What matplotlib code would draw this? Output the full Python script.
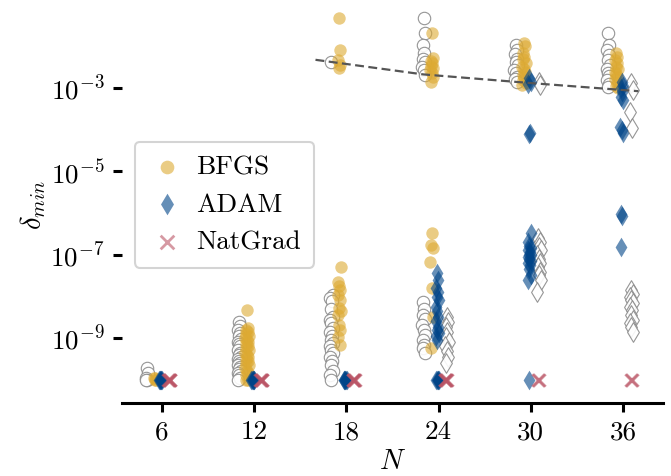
import numpy as np
import matplotlib
matplotlib.use("Agg")
import matplotlib.pyplot as plt
from matplotlib.ticker import FixedLocator, NullLocator

plt.rcParams["font.family"] = "serif"
plt.rcParams["font.serif"] = ["cmr10"]
plt.rcParams["mathtext.fontset"] = "cm"
plt.rcParams["axes.formatter.use_mathtext"] = True

# N values (categorical x axis)
N_values = [6, 12, 18, 24, 30, 36]

# log10(delta_min), one list per N
bfgs_log = [
    [-10.0, -10.0, -9.97, -9.95],
    [-8.33, -8.75, -8.8, -8.85, -8.9, -8.95, -9.0, -9.05, -9.1, -9.15, -9.2, -9.25, -9.3,
     -9.35, -9.4, -9.45, -9.5, -9.55, -9.6, -9.65, -9.72, -9.8, -9.85, -9.9, -10.0, -10.0],
    [-1.33, -2.09, -2.33, -2.45, -2.53, -7.3, -7.66, -7.75, -7.86, -7.98, -8.1, -8.27, -8.35,
     -8.45, -8.7, -8.8, -8.98, -9.17],
    [-1.69, -2.28, -2.35, -2.4, -2.47, -2.53, -2.58, -2.64, -2.75, -2.86, -6.48, -6.77, -6.85,
     -7.18, -7.8, -8.5, -9.24],
    [-1.93, -2.0, -2.16, -2.25, -2.3, -2.4, -2.5, -2.55, -2.62, -2.7, -2.75, -2.81, -2.88, -2.93],
    [-2.16, -2.25, -2.33, -2.4, -2.5, -2.55, -2.62, -2.68, -2.74, -2.8, -2.88, -2.95, -3.0],
]
adam_log = [
    [-10.0, -10.0, -10.0, -10.0, -10.0, -10.0],
    [-10.0, -10.0, -10.0, -10.0, -10.0, -10.0],
    [-10.0, -10.0, -10.0, -10.0, -10.0, -10.0],
    [-7.44, -7.6, -7.8, -7.9, -8.02, -8.1, -8.26, -8.35, -8.5, -8.6, -8.74, -8.8, -8.88, -8.95,
     -9.05, -10.0, -10.0, -10.0, -10.0, -10.0],
    [-2.77, -2.86, -2.9, -4.08, -4.1, -6.48, -6.7, -6.8, -6.85, -6.9, -6.95, -7.0, -7.02, -7.05,
     -7.1, -7.15, -7.2, -7.25, -7.35, -7.5, -7.6, -10.0],
    [-2.86, -2.95, -3.0, -3.1, -3.22, -3.29, -3.94, -4.02, -4.08, -6.02, -6.08, -6.82],
]
natgrad_log = [
    [-10.0, -10.0, -10.0, -10.0, -10.0],
    [-10.0, -10.0, -10.0, -10.0, -10.0],
    [-10.0, -10.0, -10.0, -10.0, -10.0],
    [-10.0, -10.0, -10.0, -10.0, -10.0],
    [-10.0, -10.0],
    [-10.0, -10.0],
]
# hollow grey circles / diamonds (reference runs)
ref_circle_log = [
    [-9.72, -9.85, -9.95, -10.0, -10.0],
    [-8.62, -8.72, -8.8, -8.88, -8.95, -9.02, -9.1, -9.15, -9.2, -9.28, -9.35, -9.4, -9.45,
     -9.5, -9.55, -9.6, -9.65, -9.7, -9.75, -9.8, -9.85, -9.9, -9.95, -10.0],
    [-2.38, -7.97, -8.05, -8.12, -8.3, -8.5, -8.58, -8.65, -8.75, -8.85, -8.95, -9.05, -9.12,
     -9.2, -9.28, -9.35, -9.45, -9.55, -9.65, -9.8, -9.9, -10.0],
    [-1.33, -1.69, -1.97, -2.16, -2.3, -2.38, -2.5, -2.57, -2.69, -8.14, -8.3, -8.45, -8.55,
     -8.69, -8.8, -8.93, -9.05, -9.17, -9.25, -9.36],
    [-1.97, -2.1, -2.2, -2.3, -2.38, -2.45, -2.57, -2.65, -2.74, -2.8, -2.86],
    [-1.69, -1.97, -2.1, -2.21, -2.33, -2.45, -2.55, -2.64, -2.72, -2.81, -2.9, -2.98],
]
ref_diamond_log = [
    [],
    [],
    [],
    [-8.5, -8.62, -8.74, -8.86, -8.98, -9.1, -9.2, -9.32, -9.45, -9.6],
    [-2.86, -2.93, -6.6, -6.7, -6.82, -6.9, -7.0, -7.1, -7.2, -7.3, -7.42, -7.5, -7.6, -7.9],
    [-2.88, -3.05, -3.58, -3.97, -7.85, -7.95, -8.02, -8.1, -8.17, -8.25, -8.33, -8.45,
     -8.57, -8.65, -8.74, -8.86],
]

# dashed trend line
trend_N = [16, 23, 30, 37]
trend_delta = [4.7e-3, 2.1e-3, 1.3e-3, 8.3e-4]

JIT = [0.0, 0.6, -0.6, 0.3, -0.3, 0.9, -0.9]


def strip(ax, groups, offset, **kw):
    xs, ys = [], []
    for i, vals in enumerate(groups):
        for k, v in enumerate(vals):
            xs.append(i + offset + 0.02 * JIT[k % len(JIT)])
            ys.append(10.0 ** v)
    return ax.scatter(xs, ys, **kw)


fig = plt.figure(figsize=(6.71, 4.76), dpi=100)
ax = fig.add_axes([0.1818, 0.1534, 0.806, 0.832])
ax.set_yscale("log")

gold, blue, rose = "#DDAA33", "#004488", "#BB5566"

strip(ax, ref_circle_log, -0.16, s=80, marker="o", facecolor="white",
      edgecolor="#8a8a8a", linewidth=0.8, alpha=0.9, zorder=2)
strip(ax, bfgs_log, -0.075, s=80, marker="o", color=gold, alpha=0.6,
      linewidth=0, zorder=3, label="BFGS")
strip(ax, ref_diamond_log, 0.09, s=100, marker="d", facecolor="white",
      edgecolor="#8a8a8a", linewidth=0.8, alpha=0.9, zorder=2)
strip(ax, adam_log, -0.015, s=100, marker="d", color=blue, alpha=0.6,
      linewidth=0, zorder=4, label="ADAM")
strip(ax, natgrad_log, 0.08, s=80, marker="x", color=rose, alpha=0.6,
      linewidth=2, zorder=5, label="NatGrad")

ax.plot(np.array(trend_N) / 6 - 1, trend_delta, linestyle=(0, (4, 2)),
        color="#555555", linewidth=1.6, zorder=6)

ax.set_xlim(-0.43, 5.43)
ax.set_ylim(10 ** -10.56, 10 ** -1.06)
ax.set_xticks(range(len(N_values)))
ax.set_xticklabels([str(n) for n in N_values])
ax.yaxis.set_major_locator(FixedLocator([1e-9, 1e-7, 1e-5, 1e-3]))
ax.yaxis.set_minor_locator(NullLocator())

for side in ["top", "right", "left"]:
    ax.spines[side].set_visible(False)
ax.spines["bottom"].set_linewidth(2.2)
ax.tick_params(axis="both", which="major", labelsize=19.5, width=2.2, length=6.5, pad=6)

ax.set_xlabel(r"$N$", fontsize=20.5, labelpad=3)
ax.set_ylabel(r"$\delta_{min}$", fontsize=20.5, labelpad=2)

leg = ax.legend(loc="upper left", bbox_to_anchor=(0.024, 0.66), borderaxespad=0,
                fontsize=19.5, handletextpad=0.35, labelspacing=0.5,
                borderpad=0.5, handlelength=1.4, framealpha=1, markerscale=1.1)
leg.get_frame().set_edgecolor("#d4d4d4")
leg.get_frame().set_linewidth(1.5)

fig.savefig("out.png", dpi=100)
